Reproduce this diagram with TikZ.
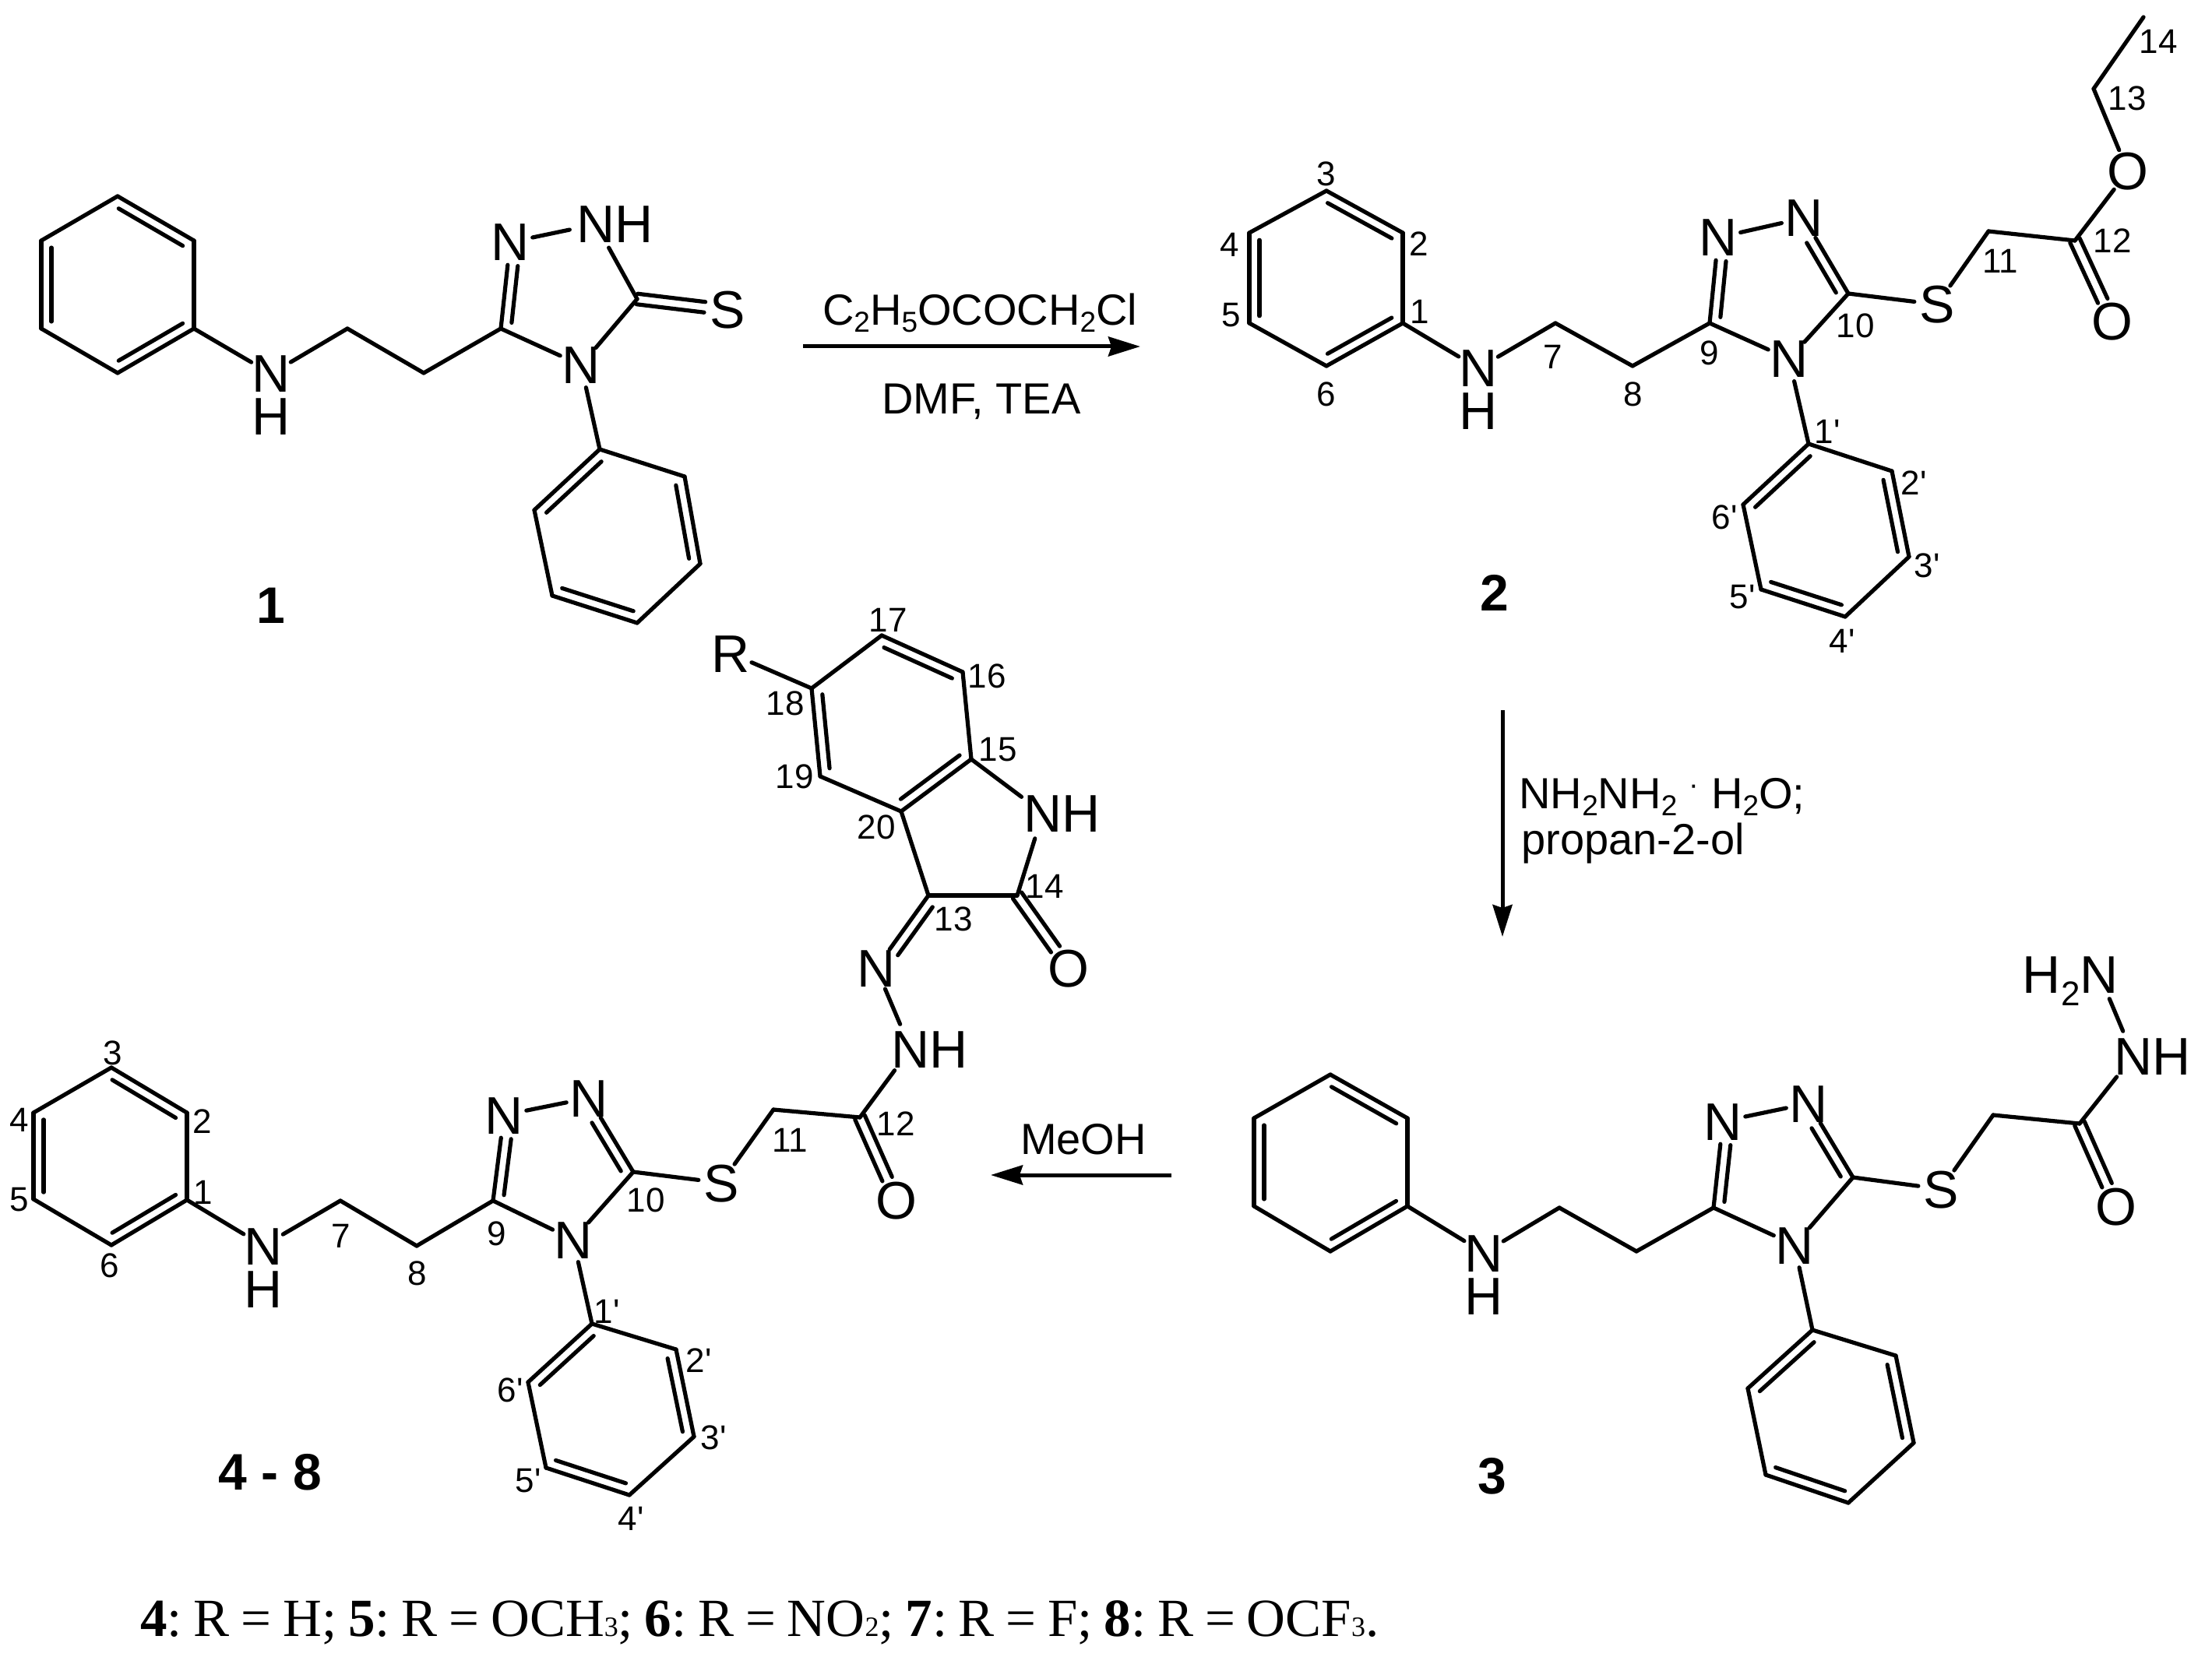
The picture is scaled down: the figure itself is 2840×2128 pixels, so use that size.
\documentclass[tikz,border=0pt]{standalone}
\usepackage{fontspec}
\usepackage{graphicx}
\usetikzlibrary{calc,arrows.meta}
\setmainfont{Liberation Sans}
\newfontfamily\sfn{Liberation Sans}
\newfontfamily\rmn{Liberation Serif}
\newcommand{\fA}{\sfn\fontsize{34}{36}\selectfont}
\newcommand{\fL}{\sfn\fontsize{22}{24}\selectfont}
\newcommand{\fT}{\sfn\fontsize{28}{30}\selectfont}
\newcommand{\subT}[1]{\raisebox{-4.5pt}{\fontsize{18.5}{20}\selectfont #1}}
\newcommand{\subA}[1]{\raisebox{-8pt}{\fontsize{22}{24}\selectfont #1}}
\newcommand{\subS}[1]{{\fontsize{18}{18}\selectfont #1}}
\tikzset{
  bond/.style={line width=2.6pt,line cap=round,line join=round,black},
  atom/.style={circle,inner sep=0pt,minimum size=29pt,font=\fA},
  atomnh/.style={atom,minimum size=34pt},
  numlab/.style={inner sep=0pt,font=\fL},
  cpd/.style={inner sep=0pt,font=\sfn\bfseries\fontsize{33}{36}\selectfont},
  reagent/.style={inner sep=0pt,font=\fT,anchor=base},
  reagentl/.style={inner sep=0pt,font=\fT,anchor=base west},
  rxn/.style={line width=2.5pt,-{Stealth[length=20.5pt,width=12.5pt,inset=2pt]}},
}
% atom: circle of fixed size round the first letter, the rest overhangs
\newcommand{\atm}[4][atom]{\node[#1] (#2) at #3 {\raisebox{-12pt}[0pt][0pt]{\makebox[0pt][c]{#4}}};}
% N with its H below it
\newcommand{\NoverH}{\makebox[0pt][c]{N}\makebox[0pt][c]{\raisebox{-27.5pt}{H}}}
\newcommand{\sbd}[2]{\draw[bond] (#1) -- (#2);}
% double bond, offsets measured to the left of a->b, second line shortened at its start
\newcommand{\dbl}[5]{%
  \path (#1) -- (#2) coordinate[pos=0] (dbs) coordinate[pos=1] (dbe);
  \draw[bond] ($(dbs)!#3!90:(dbe)$) -- ($(dbe)!#3!-90:(dbs)$);
  \draw[bond,shorten <=#5] ($(dbs)!#4!90:(dbe)$) -- ($(dbe)!#4!-90:(dbs)$);
}
% double bond of a six-ring drawn clockwise: inner line on the right
\newcommand{\rdb}[2]{%
  \draw[bond] (#1) -- (#2);
  \draw[bond] ($(#1)!0.08!(#2)!6.5pt!-90:(#2)$) -- ($(#1)!0.92!(#2)!6.5pt!90:(#1)$);
}
\newcommand{\ring}[7]{%
  \coordinate (#11) at #2; \coordinate (#12) at #3; \coordinate (#13) at #4;
  \coordinate (#14) at #5; \coordinate (#15) at #6; \coordinate (#16) at #7;
  \rdb{#11}{#12} \sbd{#12}{#13} \rdb{#13}{#14} \sbd{#14}{#15} \rdb{#15}{#16} \sbd{#16}{#11}
}
\newcommand{\lab}[3]{\node[numlab] (#1) at #2 {#3};}
\begin{document}
\begin{tikzpicture}[x=0.5pt,y=-0.5pt]
\useasboundingbox (0,0) rectangle (2840,2128);
\fill[white] (0,0) rectangle (2840,2128);

%%% compound 1
\ring{aa}{(151,252)}{(249,309)}{(249,422)}{(151,479)}{(53,422)}{(53,309)}
\ring{ab}{(879,612)}{(899,724)}{(818,800)}{(709,765)}{(686,655)}{(770,577)}
\atm{aNH}{(348,480)}{\NoverH}
\coordinate (a7) at (446,422); \coordinate (a8) at (544,479); \coordinate (a9) at (643,422);
\coordinate (a10) at (818,384);
\atm{aN4}{(746,469)}{N}
\atm{aNl}{(655,311)}{N}
\atm[atomnh]{aNr}{(765,288)}{N\rlap{H}}
\atm{aS}{(934,398)}{S}
\sbd{aa3}{aNH} \sbd{aNH}{a7} \sbd{a7}{a8} \sbd{a8}{a9} \sbd{a9}{aN4} \sbd{aN4}{a10}
\sbd{a10}{aNr} \sbd{aNr}{aNl} \sbd{aN4}{ab6}
\dbl{a9}{aNl}{0pt}{-6.5pt}{4.5pt}
\dbl{a10}{aS}{3.4pt}{-3.4pt}{0pt}
\node[cpd] (aname) at (348,778) {1};

%%% arrow 1
\coordinate (r1s) at (1031,445); \coordinate (r1e) at (1464,445);
\draw[rxn] (r1s) -- (r1e);
\node[reagent] (r1t) at (1258,418) {C\subT{2}H\subT{5}OCOCH\subT{2}Cl};
\node[reagent] (r1b) at (1260,532) {DMF, TEA};

%%% compound 2
\ring{ba}{(1703,245)}{(1801,299)}{(1801,415)}{(1703,470)}{(1604,415)}{(1604,299)}
\ring{bb}{(2429,605)}{(2451,715)}{(2369,792)}{(2261,757)}{(2238,648)}{(2322,570)}
\atm{bNH}{(1898,473)}{\NoverH}
\coordinate (b7) at (1997,415); \coordinate (b8) at (2096,470); \coordinate (b9) at (2195,415);
\coordinate (b10) at (2373,377); \coordinate (b11) at (2553,297); \coordinate (b12) at (2664,309);
\coordinate (b13) at (2688,114); \coordinate (b14) at (2752,22);
\atm{bN4}{(2297,461)}{N}
\atm{bNl}{(2206,305)}{N}
\atm{bNr}{(2316,280)}{N}
\atm{bS}{(2487,391)}{S}
\atm{bOd}{(2712,413)}{O}
\atm{bOe}{(2732,220)}{O}
\sbd{ba3}{bNH} \sbd{bNH}{b7} \sbd{b7}{b8} \sbd{b8}{b9} \sbd{b9}{bN4} \sbd{bN4}{b10}
\sbd{bNl}{bNr} \sbd{bN4}{bb6} \sbd{b10}{bS} \sbd{bS}{b11} \sbd{b11}{b12}
\sbd{b12}{bOe} \sbd{bOe}{b13} \sbd{b13}{b14}
\dbl{b9}{bNl}{0pt}{-6.5pt}{4.5pt}
\dbl{b10}{bNr}{0pt}{6.5pt}{4.5pt}
\dbl{b12}{bOd}{3.4pt}{-3.4pt}{0pt}
\lab{bl3}{(1703,223)}{3} \lab{bl2}{(1822,313)}{2} \lab{bl1}{(1823,400)}{1}
\lab{bl4}{(1579,314)}{4} \lab{bl5}{(1581,405)}{5} \lab{bl6}{(1703,506)}{6}
\lab{bl7}{(1994,458)}{7} \lab{bl8}{(2097,506)}{8} \lab{bl9}{(2195,453)}{9}
\lab{bl10}{(2382,418)}{10} \lab{bl11}{(2568,335)}{11} \lab{bl12}{(2712,309)}{12}
\lab{bl13}{(2731,126)}{13} \lab{bl14}{(2771,53)}{14}
\lab{blp1}{(2346,554)}{1'} \lab{blp2}{(2457,620)}{2'} \lab{blp3}{(2474,726)}{3'}
\lab{blp4}{(2365,823)}{4'} \lab{blp5}{(2237,767)}{5'} \lab{blp6}{(2214,664)}{6'}
\node[cpd] (bname) at (1919,761) {2};

%%% arrow 2
\coordinate (r2s) at (1929,912); \coordinate (r2e) at (1929,1203);
\draw[rxn] (r2s) -- (r2e);
\node[reagentl] (r2t) at (1950,1038) {NH\subT{2}NH\subT{2} \raisebox{9pt}{\fontsize{19}{20}\selectfont ·} H\subT{2}O;};
\node[reagentl] (r2b) at (1953,1097) {propan-2-ol};

%%% compound 3
\ring{ca}{(1708,1380)}{(1807,1436)}{(1807,1549)}{(1708,1607)}{(1610,1549)}{(1610,1436)}
\ring{cb}{(2434,1741)}{(2457,1853)}{(2373,1930)}{(2267,1894)}{(2244,1783)}{(2327,1708)}
\atm{cNH}{(1905,1609)}{\NoverH}
\coordinate (c7) at (2002,1551); \coordinate (c8) at (2101,1607); \coordinate (c9) at (2200,1551);
\coordinate (c10) at (2379,1512); \coordinate (c11) at (2559,1432); \coordinate (c12) at (2670,1443);
\atm{cN4}{(2304,1599)}{N}
\atm{cNl}{(2212,1440)}{N}
\atm{cNr}{(2322,1417)}{N}
\atm{cS}{(2492,1527)}{S}
\atm{cO}{(2717,1549)}{O}
\atm[atomnh]{cNa}{(2739,1356)}{N\rlap{H}}
\atm[atomnh]{cNb}{(2695,1251)}{\llap{H\subA{2}}N}
\sbd{ca3}{cNH} \sbd{cNH}{c7} \sbd{c7}{c8} \sbd{c8}{c9} \sbd{c9}{cN4} \sbd{cN4}{c10}
\sbd{cNl}{cNr} \sbd{cN4}{cb6} \sbd{c10}{cS} \sbd{cS}{c11} \sbd{c11}{c12}
\sbd{c12}{cNa} \sbd{cNa}{cNb}
\dbl{c9}{cNl}{0pt}{-6.5pt}{4.5pt}
\dbl{c10}{cNr}{0pt}{6.5pt}{4.5pt}
\dbl{c12}{cO}{3.4pt}{-3.4pt}{0pt}
\node[cpd] (cname) at (1916,1896) {3};

%%% arrow 3
\coordinate (r3s) at (1504,1509); \coordinate (r3e) at (1272,1509);
\draw[rxn] (r3s) -- (r3e);
\node[reagent] (r3t) at (1391,1482) {MeOH};

%%% compound 4-8
\ring{da}{(143,1371)}{(240,1429)}{(240,1541)}{(143,1599)}{(43,1540)}{(43,1429)}
\ring{db}{(868,1733)}{(891,1845)}{(808,1920)}{(701,1885)}{(678,1775)}{(760,1700)}
\atm{dNH}{(338,1600)}{\NoverH}
\coordinate (d7) at (437,1542); \coordinate (d8) at (535,1600); \coordinate (d9) at (633,1542);
\coordinate (d10) at (813,1505); \coordinate (d11) at (993,1425); \coordinate (d12) at (1104,1435);
\atm{dN4}{(736,1592)}{N}
\atm{dNl}{(647,1432)}{N}
\atm{dNr}{(756,1410)}{N}
\atm{dS}{(926,1519)}{S}
\atm{dO}{(1151,1541)}{O}
\atm[atomnh]{dNa}{(1169,1347)}{N\rlap{H}}
\atm{dNb}{(1125,1243)}{N}
\sbd{da3}{dNH} \sbd{dNH}{d7} \sbd{d7}{d8} \sbd{d8}{d9} \sbd{d9}{dN4} \sbd{dN4}{d10}
\sbd{dNl}{dNr} \sbd{dN4}{db6} \sbd{d10}{dS} \sbd{dS}{d11} \sbd{d11}{d12}
\sbd{d12}{dNa} \sbd{dNa}{dNb}
\dbl{d9}{dNl}{0pt}{-6.5pt}{4.5pt}
\dbl{d10}{dNr}{0pt}{6.5pt}{4.5pt}
\dbl{d12}{dO}{3.4pt}{-3.4pt}{0pt}
\ring{ei}{(1132,816)}{(1236,863)}{(1247,975)}{(1157,1042)}{(1053,997)}{(1042,884)}
\coordinate (e13) at (1192,1150); \coordinate (e14) at (1306,1150);
\atm{eR}{(938,839)}{R}
\atm[atomnh]{eNH}{(1339,1044)}{N\rlap{H}}
\atm{eO}{(1372,1243)}{O}
\sbd{ei6}{eR} \sbd{ei3}{eNH} \sbd{eNH}{e14} \sbd{e14}{e13} \sbd{e13}{ei4}
\dbl{e14}{eO}{3.4pt}{-3.4pt}{0pt}
\dbl{e13}{dNb}{0pt}{6.5pt}{4.5pt}
\lab{dl3}{(145,1352)}{3} \lab{dl2}{(260,1440)}{2} \lab{dl1}{(261,1531)}{1}
\lab{dl4}{(25,1438)}{4} \lab{dl5}{(25,1541)}{5} \lab{dl6}{(141,1625)}{6}
\lab{dl7}{(438,1587)}{7} \lab{dl8}{(536,1635)}{8} \lab{dl9}{(638,1584)}{9}
\lab{dl10}{(829,1541)}{10} \lab{dl11}{(1014,1464)}{11} \lab{dl12}{(1150,1443)}{12}
\lab{dlp1}{(779,1684)}{1'} \lab{dlp2}{(897,1747)}{2'} \lab{dlp3}{(916,1846)}{3'}
\lab{dlp4}{(810,1950)}{4'} \lab{dlp5}{(678,1902)}{5'} \lab{dlp6}{(655,1785)}{6'}
\lab{el13}{(1224,1180)}{13} \lab{el14}{(1341,1138)}{14} \lab{el15}{(1281,963)}{15}
\lab{el16}{(1267,868)}{16} \lab{el17}{(1140,796)}{17} \lab{el18}{(1008,903)}{18}
\lab{el19}{(1020,997)}{19} \lab{el20}{(1125,1062)}{20}
\node[cpd] (dname) at (347,1891) {4 - 8};

%%% footnote
\node[inner sep=0pt,anchor=base west,font=\rmn\fontsize{34.5}{36}\selectfont] (foot) at (180,2101)
  {\frenchspacing\spaceskip=7.4pt\textbf{4}: R = H; \textbf{5}: R = OCH\subS{3}; \textbf{6}: R = NO\subS{2}; \textbf{7}: R = F; \textbf{8}: R = OCF\subS{3}.};
\end{tikzpicture}
\end{document}
